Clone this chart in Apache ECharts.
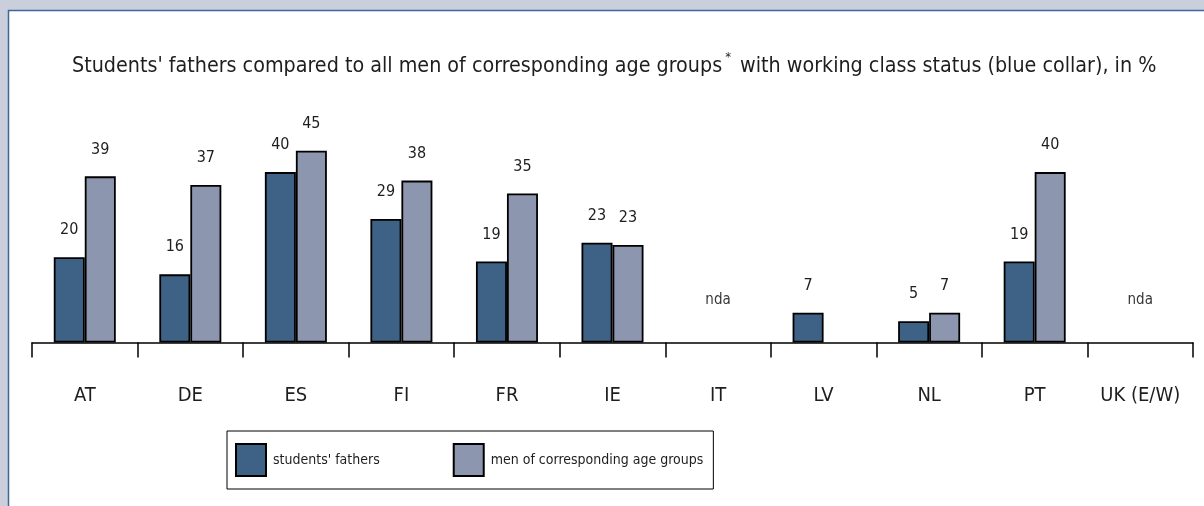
<!DOCTYPE html>
<html>
<head>
<meta charset="utf-8">
<script src="https://cdn.jsdelivr.net/npm/echarts@6/dist/echarts.min.js"></script>
<style>
	html, body { margin:0; padding:0; background:#cbcfdb; }
	#main { width:1204px; height:506px; }
</style>
</head>
<body>
<div id="main"></div>
<script>
// data
var countries = ['AT', 'DE', 'ES', 'FI', 'FR', 'IE', 'IT', 'LV', 'NL', 'PT', 'UK (E/W)'];
var fathers   = [20, 16, 40, 29, 19, 23.4, null, 7, 5, 19, null];
var menAge    = [39, 37, 45, 38, 35, 22.9, null, null, 7, 40, null];
var noData    = [false, false, false, false, false, false, true, false, false, false, true];
var ndaLevel  = 10;	// height where the "nda" note sits

var FONT = "'Liberation Sans Narrow', 'DejaVu Sans Condensed', 'Roboto Condensed', sans-serif";

var myChart = echarts.init(document.getElementById('main'));

var barLabel = {
	show: true,
	position: 'top',
	distance: 19,
	fontFamily: FONT,
	fontSize: 16,
	color: '#1e1e1e',
	formatter: function (p) { return Math.round(p.value); }
};

var option = {
	backgroundColor: '#cbcfdb',
	animation: false,
	graphic: [{
		type: 'rect',
		z: -10,
		shape: { x: 8.5, y: 10.5, width: 1300, height: 600 },
		style: { fill: '#fff', stroke: '#3f6898', lineWidth: 1.5 }
	}],
	title: {
		left: 67,
		top: 46,
		text: "Students' fathers compared to all men of corresponding age groups{sup|*} with working class status (blue collar), in %",
		textStyle: {
			fontFamily: FONT,
			fontSize: 21.3,
			fontWeight: 'normal',
			color: '#1e1e1e',
			lineHeight: 30,
			rich: {
				sup: { fontFamily: FONT, fontSize: 13, color: '#1e1e1e', verticalAlign: 'top', lineHeight: 14, padding: [0, 3, 0, 3] }
			}
		}
	},
	legend: {
		left: 227,
		top: 431,
		padding: [12, 10, 12, 8],
		itemWidth: 30,
		itemHeight: 32,
		itemGap: 73,
		borderColor: '#000',
		borderWidth: 1,
		itemStyle: { borderColor: '#000', borderWidth: 2 },
		textStyle: { fontFamily: FONT, fontSize: 14, color: '#1e1e1e', padding: [0, 0, 0, 2] },
		data: [
			{ name: "students' fathers", icon: 'rect' },
			{ name: 'men of corresponding age groups', icon: 'rect' }
		]
	},
	grid: { left: 32, right: 11, top: 129.5, bottom: 163.5 },
	xAxis: {
		type: 'category',
		data: countries,
		axisLine: { lineStyle: { color: '#000', width: 1.5 } },
		axisTick: { show: true, interval: 0, length: 15, lineStyle: { color: '#000', width: 1.5 } },
		axisLabel: { interval: 0, margin: 43, fontFamily: FONT, fontSize: 20, color: '#1e1e1e' }
	},
	yAxis: {
		type: 'value',
		min: 0,
		max: 50,
		show: false
	},
	series: [{
		name: "students' fathers",
		type: 'bar',
		barWidth: 31,
		barGap: '0%',
		data: fathers,
		itemStyle: { color: '#3d6285', borderColor: '#000', borderWidth: 1.8 },
		label: barLabel
	}, {
		name: 'men of corresponding age groups',
		type: 'bar',
		barWidth: 31,
		data: menAge,
		itemStyle: { color: '#8c96ae', borderColor: '#000', borderWidth: 1.8 },
		label: barLabel
	}, {
		name: 'nda',
		type: 'scatter',
		symbolSize: 0,
		data: noData.map(function (v) { return v ? ndaLevel : null; }),
		label: {
			show: true,
			position: 'inside',
			fontFamily: FONT,
			fontSize: 15,
			color: '#000',
			formatter: 'nda'
		}
	}]
};

myChart.setOption(option);
</script>
</body>
</html>
